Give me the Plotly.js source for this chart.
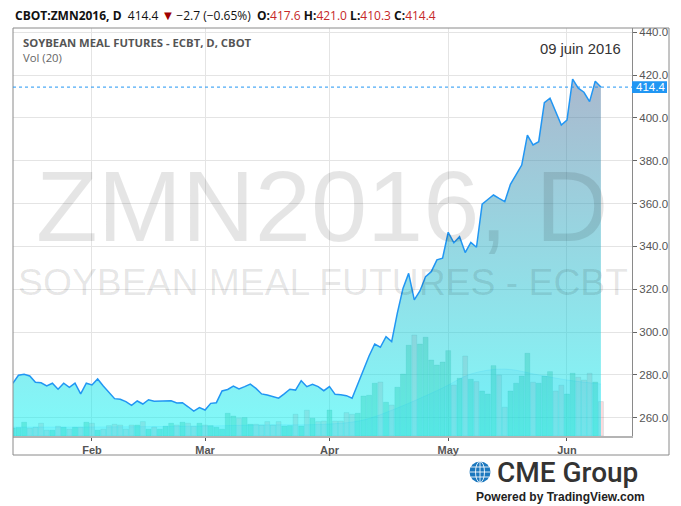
<!DOCTYPE html>
<html><head><meta charset="utf-8">
<script src="https://cdn.plot.ly/plotly-3.0.1.min.js"></script>
<style>html,body{margin:0;padding:0;background:#fff;}#chart{width:681px;height:506px;}</style>
</head><body><div id="chart"></div>
<script>
// ---- data ----
const dates = [
 '2016-01-11','2016-01-12','2016-01-13','2016-01-14','2016-01-15','2016-01-19','2016-01-20','2016-01-21','2016-01-22','2016-01-25','2016-01-26','2016-01-27','2016-01-28','2016-01-29',
 '2016-02-01','2016-02-02','2016-02-03','2016-02-04','2016-02-05','2016-02-08','2016-02-09','2016-02-10','2016-02-11','2016-02-12','2016-02-16','2016-02-17','2016-02-18','2016-02-19','2016-02-22','2016-02-23','2016-02-24','2016-02-25','2016-02-26','2016-02-29',
 '2016-03-01','2016-03-02','2016-03-03','2016-03-04','2016-03-07','2016-03-08','2016-03-09','2016-03-10','2016-03-11','2016-03-14','2016-03-15','2016-03-16','2016-03-17','2016-03-18','2016-03-21','2016-03-22','2016-03-23','2016-03-24','2016-03-28','2016-03-29','2016-03-30','2016-03-31',
 '2016-04-01','2016-04-04','2016-04-05','2016-04-06','2016-04-07','2016-04-08','2016-04-11','2016-04-12','2016-04-13','2016-04-14','2016-04-15','2016-04-18','2016-04-19','2016-04-20','2016-04-21','2016-04-22','2016-04-25','2016-04-26','2016-04-27','2016-04-28','2016-04-29',
 '2016-05-02','2016-05-03','2016-05-04','2016-05-05','2016-05-06','2016-05-09','2016-05-10','2016-05-11','2016-05-12','2016-05-13','2016-05-16','2016-05-17','2016-05-18','2016-05-19','2016-05-20','2016-05-23','2016-05-24','2016-05-25','2016-05-26','2016-05-27','2016-05-31',
 '2016-06-01','2016-06-02','2016-06-03','2016-06-06','2016-06-07','2016-06-08','2016-06-09'
];
const closePrice = [
 276.1,279.8,280.3,279.5,276.5,276.3,274.8,276.1,273.3,276.1,274.2,276.1,271.1,276.1,
 275.3,278.1,274.8,272.0,268.9,268.6,267.5,265.8,267.8,266.4,268.4,267.7,267.7,267.8,267.9,266.9,267.0,265.1,263.1,264.7,
 263.6,266.7,267.0,272.5,273.2,274.8,273.4,274.5,275.7,273.7,271.1,270.6,269.8,269.1,271.1,273.3,272.9,277.3,274.5,275.6,274.5,272.6,
 274.5,270.9,270.7,270.3,269.1,275.7,282.7,288.8,294.4,292.9,297.8,295.5,308.8,320.4,327.4,315.0,319.2,325.9,328.2,333.7,334.5,
 346.6,341.7,344.5,337.1,341.9,339.6,359.7,361.9,364.0,362.4,360.9,369.0,373.4,378.0,392.0,387.4,388.9,407.1,409.2,403.2,396.7,
 399.0,418.1,413.9,412.0,407.6,417.1,414.4
];
const volumeK = [
 4.0,4.2,6.9,3.9,4.4,6.4,2.9,2.9,4.9,4.4,3.4,4.4,4.4,6.9,
 6.4,2.9,3.4,5.2,5.9,5.5,3.4,5.5,5.5,7.2,3.4,4.5,3.4,4.9,6.4,5.5,6.9,6.4,4.9,6.4,
 5.5,5.2,4.4,3.4,11.4,10.0,8.9,9.2,5.9,5.9,5.5,7.2,5.5,7.2,5.0,5.2,10.9,5.0,12.9,8.9,7.2,7.5,
 13.0,7.5,7.5,11.7,10.9,11.4,20.0,20.4,26.4,27.0,16.9,15.5,24.4,31.0,45.4,50.5,46.0,49.4,38.0,35.5,37.0,
 42.7,25.5,28.9,40.0,28.4,27.2,22.5,21.0,35.2,30.5,14.4,22.5,26.4,30.0,41.4,26.9,26.4,30.0,32.2,22.5,25.4,
 21.0,31.4,29.4,28.0,31.4,27.0,17.2
];
const volMaDates = ['2016-01-11','2016-02-01','2016-03-01','2016-03-14','2016-04-01','2016-04-11','2016-04-19','2016-04-29','2016-05-06','2016-05-16','2016-05-24','2016-06-01','2016-06-09'];
const volMaValues = [4.5,4.5,5.0,5.5,6.0,8.0,14.0,24.0,31.0,33.5,30.5,28.0,26.0];
const monthTickDates = ['2016-02-01','2016-03-01','2016-04-01','2016-05-02','2016-06-01'];
const monthTickLabels = ['Feb','Mar','Apr','May','Jun'];
const priceTicks = [260,280,300,320,340,360,380,400,420,440];
const priceTickLabels = ['260.0','280.0','300.0','320.0','340.0','360.0','380.0','400.0','420.0','440.0'];
const header = {symbol:'CBOT:ZMN2016, D', last:'414.4', change:'\u22122.7 (\u22120.65%)', o:'417.6', h:'421.0', l:'410.3', c:'414.4'};

// ---- layout helpers (pixel -> paper) ----
const L=13, R=632, T=28, B=436;
const PX = p => (p-L)/(R-L);
const PY = p => (B-p)/(B-T);

const upCol='rgba(83,185,135,0.4)', dnCol='rgba(235,77,92,0.2)';
const volColors = closePrice.map((c,i)=> (i===0 || c>=closePrice[i-1]) ? upCol : dnCol);

const traces = [
 {type:'bar', x:dates, y:volumeK, yaxis:'y', marker:{color:volColors, line:{width:0.6, color:'rgba(0,110,110,0.2)'}}, hoverinfo:'skip'},
 {type:'scatter', mode:'lines', x:volMaDates, y:volMaValues, yaxis:'y', line:{shape:'spline', width:1, color:'rgba(0,140,255,0.12)'}, fill:'tozeroy', fillcolor:'rgba(0,140,255,0.09)', hoverinfo:'skip'},
 {type:'scatter', mode:'lines', x:dates, y:closePrice, yaxis:'y2', line:{color:'#2196F3', width:1.5}, fill:'tozeroy',
  fillgradient:{type:'vertical', start:251.45, stop:442, colorscale:[[0,'rgba(1,246,245,0.5)'],[1,'rgba(96,96,144,0.5)']]}, hoverinfo:'skip'}
];

const last = closePrice[closePrice.length-1];
const ff = 'Liberation Sans, Arial, sans-serif';
const red = '#c62828';
const sp = '\u00a0';
const grp = (k,v) => '<b>'+k+':</b><span style="color:'+red+'">'+v+'</span>';
const hdr = '<b>'+header.symbol+'</b>'+sp+sp+header.last+sp+'<span style="color:#a00000;font-size:13px">\u25BC</span>\u2009'+header.change+
  sp+sp+grp('O',header.o)+sp+grp('H',header.h)+sp+grp('L',header.l)+sp+grp('C',header.c);

// globe logo
const gx=480, gy=472, gr=10.5;
const wl = {color:'rgba(255,255,255,0.85)', width:1};
const shapes = [
 {type:'rect', xref:'paper', yref:'paper', x0:PX(13), x1:PX(669), y0:PY(455), y1:PY(28), line:{color:'#8a8a8a', width:1}},
 {type:'line', xref:'paper', yref:'y2', x0:0, x1:1, y0:last, y1:last, line:{color:'#2196F3', width:1, dash:'dot'}},
 {type:'rect', xref:'paper', yref:'y2', x0:1, x1:PX(667), y0:last-2.75, y1:last+2.75, fillcolor:'#2196F3', line:{width:0}},
 {type:'circle', xref:'paper', yref:'paper', x0:PX(gx-gr), x1:PX(gx+gr), y0:PY(gy+gr), y1:PY(gy-gr), fillcolor:'#1c78be', line:{width:0}},
 {type:'circle', xref:'paper', yref:'paper', x0:PX(gx-4.5), x1:PX(gx+4.5), y0:PY(gy+gr), y1:PY(gy-gr), line:wl},
 {type:'line', xref:'paper', yref:'paper', x0:PX(gx), x1:PX(gx), y0:PY(gy+gr), y1:PY(gy-gr), line:wl},
 {type:'line', xref:'paper', yref:'paper', x0:PX(gx-gr), x1:PX(gx+gr), y0:PY(gy), y1:PY(gy), line:wl},
 {type:'line', xref:'paper', yref:'paper', x0:PX(gx-9), x1:PX(gx+9), y0:PY(gy-5), y1:PY(gy-5), line:wl},
 {type:'line', xref:'paper', yref:'paper', x0:PX(gx-9), x1:PX(gx+9), y0:PY(gy+5), y1:PY(gy+5), line:wl}
];

const annotations = [
 {xref:'paper', yref:'paper', x:PX(13), y:PY(15), xanchor:'left', yanchor:'middle', showarrow:false, text:hdr, font:{family:'Open Sans, sans-serif', size:12, color:'#111'}},
 {xref:'paper', yref:'paper', x:PX(21), y:PY(43), xanchor:'left', yanchor:'middle', showarrow:false, text:'<b>SOYBEAN MEAL FUTURES - ECBT, D, CBOT</b>', font:{family:'Open Sans, sans-serif', size:11.3, color:'#555'}},
 {xref:'paper', yref:'paper', x:PX(21), y:PY(58), xanchor:'left', yanchor:'middle', showarrow:false, text:'Vol (20)', font:{family:'Open Sans, sans-serif', size:11.3, color:'#666'}},
 {xref:'paper', yref:'paper', x:PX(623), y:PY(49), xanchor:'right', yanchor:'middle', showarrow:false, text:'09 juin 2016', font:{family:ff, size:14.8, color:'#333'}},
 {xref:'paper', yref:'paper', x:0.5, y:PY(206), xanchor:'center', yanchor:'middle', showarrow:false, text:'ZMN2016, D', font:{family:ff, size:101, color:'rgba(0,0,0,0.1)'}},
 {xref:'paper', yref:'paper', x:0.5, y:PY(282), xanchor:'center', yanchor:'middle', showarrow:false, text:'SOYBEAN MEAL FUTURES - ECBT', font:{family:ff, size:37.3, color:'rgba(0,0,0,0.1)'}},
 {xref:'paper', yref:'y2', x:PX(650), y:last, xanchor:'center', yanchor:'middle', showarrow:false, text:last.toFixed(1), font:{family:ff, size:11.5, color:'#fff'}},
 {xref:'paper', yref:'paper', x:PX(495), y:PY(473), xanchor:'left', yanchor:'middle', showarrow:false, text:'CME Group', font:{family:'Roboto, sans-serif', size:28, color:'#333', weight:500}},
 {xref:'paper', yref:'paper', x:PX(560), y:PY(497), xanchor:'center', yanchor:'middle', showarrow:false, text:'<b>Powered by TradingView.com</b>', font:{family:ff, size:12, color:'#222'}}
];

const layout = {
 width:681, height:506, margin:{l:L, r:681-R, t:T, b:506-B}, paper_bgcolor:'#fff', plot_bgcolor:'#fff',
 showlegend:false, hovermode:false, bargap:0.12,
 xaxis:{type:'category', categoryorder:'array', categoryarray:dates, range:[0.035,109.5], tickvals:monthTickDates, ticktext:monthTickLabels,
   showgrid:true, gridcolor:'#e4e4e4', gridwidth:1, showline:true, linecolor:'#b4b4b4', linewidth:2, ticks:'outside', ticklen:3, tickcolor:'#555',
   tickfont:{family:ff, size:11, color:'#555', weight:'bold'}, zeroline:false, fixedrange:true},
 yaxis:{range:[0,204], visible:false, showgrid:false, zeroline:false, fixedrange:true},
 yaxis2:{overlaying:'y', side:'right', range:[251.45,442], tickvals:priceTicks, ticktext:priceTickLabels, showgrid:true, gridcolor:'#e4e4e4',
   ticks:'outside', ticklen:4, tickcolor:'#666', tickfont:{family:ff, size:11.5, color:'#555'}, showline:true, linecolor:'#8a8a8a', linewidth:1, zeroline:false, fixedrange:true},
 shapes:shapes, annotations:annotations
};
Plotly.newPlot('chart', traces, layout, {displayModeBar:false, staticPlot:true});
</script></body></html>
